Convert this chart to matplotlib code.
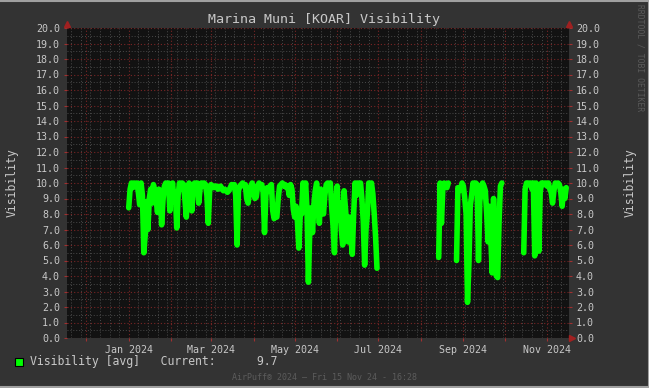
import matplotlib
matplotlib.use("Agg")
import matplotlib.pyplot as plt
import matplotlib.dates as mdates
from matplotlib.patches import Rectangle
from matplotlib.lines import Line2D
import pandas as pd

# daily visibility [avg], one value per day
vis_jan = [8.4, 9.6, 10.0, 9.7, 10.0, 9.9, 10.0, 9.4, 8.6, 10.0, 9.2, 5.5, 6.6, 8.8, 7.0, 9.0,
           9.6, 8.7, 9.9, 9.5, 8.9, 8.1, 9.6, 9.5, 7.3, 8.9, 9.8, 10.0, 9.5, 10.0, 8.2]
vis_feb = [9.7, 10.0, 8.8, 9.4, 7.1, 9.2, 10.0, 9.6, 10.0, 9.9, 8.9, 7.8, 9.3, 10.0, 9.6, 8.2,
           9.8, 10.0, 9.7, 10.0, 8.7, 9.6, 10.0, 9.8, 10.0, 9.9, 9.2, 7.4, 9.5]
vis_mar = [9.9, 9.8, 9.7, 9.8, 9.8, 9.6, 9.7, 9.8, 9.6, 9.5, 9.6, 9.5, 9.4, 9.5, 9.7, 9.9,
           9.8, 9.9, 9.2, 6.0, 9.5, 9.8, 9.9, 10.0, 9.8, 9.9, 9.0, 8.7, 9.3, 9.8, 10.0]
vis_apr = [9.6, 9.0, 9.1, 9.8, 10.0, 9.8, 9.9, 9.4, 6.8, 9.2, 9.7, 9.6, 9.8, 9.9, 8.2, 7.7,
           7.9, 7.8, 9.0, 9.8, 9.9, 10.0, 9.8, 9.9, 9.7, 9.8, 9.2, 9.9, 9.6, 8.3]
vis_may = [7.8, 8.5, 7.5, 5.8, 7.9, 8.0, 10.0, 9.4, 10.0, 8.2, 3.6, 7.0, 8.4, 6.8, 8.6, 9.5,
           10.0, 8.8, 7.4, 9.6, 8.6, 8.0, 9.2, 9.9, 10.0, 9.6, 10.0, 8.4, 7.2, 5.5, 8.8]
vis_jun = [9.8, 7.6, 8.7, 7.0, 6.0, 9.5, 8.4, 7.2, 6.2, 7.8, 6.5, 5.4, 8.0, 10.0, 9.2, 10.0,
           9.7, 10.0, 9.0, 7.5, 4.7, 7.0, 8.0, 10.0, 9.8, 10.0, 9.3, 8.0, 6.5, 4.5]

# from Aug 14
vis_aug = [5.2, 10.0, 7.4, 9.6, 10.0, 9.9, 9.7, 10.0]
# from Aug 27
vis_sep = [5.0, 9.7, 9.5, 9.6, 10.0,
           9.8, 9.0, 8.0, 2.3, 4.7, 8.5, 9.2, 10.0, 9.7, 10.0, 9.9, 5.0, 8.8, 9.6, 10.0,
           9.8, 9.5, 8.0, 6.2, 8.5, 6.4, 4.2, 9.0, 6.0, 4.0, 3.9, 7.5, 9.8, 10.0]
# from Oct 15
vis_oct_nov = [5.5, 9.6, 10.0, 10.0, 9.9, 10.0, 9.6, 10.0, 5.3, 10.0, 9.8, 5.6, 9.4, 10.0,
               10.0, 9.9, 10.0,
               9.8, 10.0, 9.6, 9.4, 8.7, 9.5, 10.0, 9.9, 10.0, 9.9, 9.4, 8.5, 9.6, 9.0, 9.7]

segments = [("2024-01-01", vis_jan + vis_feb + vis_mar + vis_apr + vis_may + vis_jun),
            ("2024-08-14", vis_aug),
            ("2024-08-27", vis_sep),
            ("2024-10-15", vis_oct_nov)]

BG = "#333333"
PLOT_BG = "#121212"
TXT = "#c8c8c8"
MONO = "DejaVu Sans Mono"

fig = plt.figure(figsize=(6.49, 3.88), dpi=100, facecolor=BG)
ax = fig.add_axes([67 / 649, 50 / 388, 502 / 649, 310 / 388])
ax.set_facecolor(PLOT_BG)

for start, v in segments:
    d = pd.date_range(start, periods=len(v), freq="D")
    ax.plot(d, v, color="#00ff00", lw=4.0,
            solid_joinstyle="round", solid_capstyle="round", zorder=3)

ax.set_xlim(pd.Timestamp("2023-11-17"), pd.Timestamp("2024-11-17"))
ax.set_ylim(0, 20)

# grid: red major, grey minor
ax.set_yticks([i for i in range(0, 21)])
ax.set_yticks([i + 0.5 for i in range(0, 20)], minor=True)
ax.xaxis.set_major_locator(mdates.MonthLocator())
ax.xaxis.set_minor_locator(mdates.WeekdayLocator(byweekday=mdates.MO))
ax.xaxis.set_major_formatter(plt.FuncFormatter(
    lambda x, p: mdates.num2date(x).strftime("%b %Y") if mdates.num2date(x).month % 2 == 1 else ""))
ax.yaxis.set_major_formatter(plt.FuncFormatter(lambda y, p: f"{y:.1f}"))

ax.grid(which="minor", color="#4a4a4a", ls=(0, (1, 2)), lw=0.7, zorder=1)
ax.grid(which="major", color="#7a2525", ls=(0, (1, 2)), lw=0.8, zorder=2)

ax.tick_params(which="major", length=2, color="#a03030", labelcolor=TXT, pad=3,
               labelsize=7.2, right=True, labelright=True)
ax.tick_params(which="minor", length=0, right=True)
for lab in ax.get_xticklabels() + ax.get_yticklabels():
    lab.set_fontfamily(MONO)
for sp in ax.spines.values():
    sp.set_visible(False)

# rrdtool style axis arrows
ax.plot([0], [1.012], marker="^", ms=4, color="#a02020", transform=ax.transAxes, clip_on=False)
ax.plot([1], [1.012], marker="^", ms=4, color="#a02020", transform=ax.transAxes, clip_on=False)
ax.plot([1.006], [0], marker=">", ms=4, color="#a02020", transform=ax.transAxes, clip_on=False)

fig.text(0.5, 1 - 19 / 388, "Marina Muni [KOAR] Visibility", ha="center", va="center",
         color=TXT, fontsize=9.6, family=MONO)
fig.text(12 / 649, 1 - 183 / 388, "Visibility", rotation=90, ha="center", va="center",
         color=TXT, fontsize=8.3, family=MONO)
fig.text(630 / 649, 1 - 183 / 388, "Visibility", rotation=90, ha="center", va="center",
         color=TXT, fontsize=8.3, family=MONO)
fig.text(640 / 649, 1 - 58 / 388, "RRDTOOL / TOBI OETIKER", rotation=270, ha="center",
         va="center", color="#5a5a5a", fontsize=5.8, family=MONO)

# legend line
fig.patches.append(Rectangle((15 / 649, 1 - 366 / 388), 8 / 649, 8 / 388, transform=fig.transFigure,
                             facecolor="#00ff00", edgecolor="black", lw=0.8))
fig.text(30 / 649, 1 - 362 / 388, "Visibility [avg]   Current:      9.7", ha="left", va="center",
         color=TXT, fontsize=8.3, family=MONO)
fig.text(0.5, 1 - 377 / 388, "AirPuff\u00ae 2024 \u2013 Fri 15 Nov 24 - 16:28", ha="center",
         va="center", color="#5c5c5c", fontsize=6, family=MONO)

# canvas frame: light on top, right and bottom
fig.lines.append(Line2D([0, 1, 1, 0], [0.998, 0.998, 0.002, 0.002],
                        transform=fig.transFigure, color="#a0a0a0", lw=1.5))

fig.savefig("out.png", dpi=100, facecolor=BG)
